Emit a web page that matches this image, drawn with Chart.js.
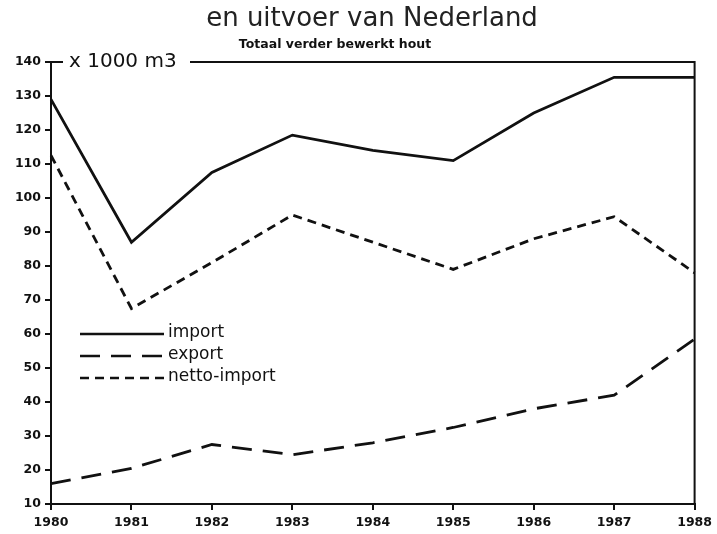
<!DOCTYPE html>
<html lang="nl">
  <head>
    <meta charset="UTF-8" />
    <title>Uitvoer van Nederland</title>
    <script src="https://cdn.jsdelivr.net/npm/chart.js"></script>
    <style>
      html, body { margin: 0; padding: 0; background: #fff; }
      .chart-container { position: relative; width: 717px; height: 534px; }
    </style>
  </head>
  <body>
    <div class="chart-container">
      <canvas id="houtChart"></canvas>
    </div>
    <script>
      // data (x 1000 m3)
      const years = ["1980", "1981", "1982", "1983", "1984", "1985", "1986", "1987", "1988"];
      const importValues = [129, 87, 107.5, 118.5, 114, 111, 125, 135.5, 135.5];
      const exportValues = [16, 20.5, 27.5, 24.5, 28, 32.5, 38, 42, 58.5];
      const nettoValues = [112.5, 67.5, 81, 95, 87, 79, 88, 94.5, 78];
      const seriesNames = ["import", "export", "netto-import"];

      const ink = "#111";
      const dashes = [[], [20, 11], [9, 6]];

      // title, subtitle, frame, unit label and legend
      const decorations = {
        id: "decorations",
        afterDraw(chart) {
          const { ctx, chartArea } = chart;
          const { left, right, top, bottom } = chartArea;
          ctx.save();
          ctx.fillStyle = ink;
          ctx.strokeStyle = ink;
          ctx.textBaseline = "middle";

          ctx.textAlign = "center";
          ctx.font = "26px 'DejaVu Sans', sans-serif";
          ctx.fillStyle = "#222";
          ctx.fillText("en uitvoer van Nederland", 372, 19);
          ctx.fillStyle = ink;
          ctx.font = "bold 12.5px 'DejaVu Sans', sans-serif";
          ctx.fillText("Totaal verder bewerkt hout", 335, 45);

          // top and right frame, broken for the unit label
          ctx.lineWidth = 2;
          ctx.beginPath();
          ctx.moveTo(left, top);
          ctx.lineTo(left + 12, top);
          ctx.moveTo(190, top);
          ctx.lineTo(right, top);
          ctx.lineTo(right, bottom);
          ctx.stroke();

          ctx.textAlign = "left";
          ctx.font = "20px 'DejaVu Sans', sans-serif";
          ctx.fillText("x 1000 m3", 69, top);

          // legend inside the plot
          const rows = [334, 356, 378];
          ctx.font = "17px 'DejaVu Sans', sans-serif";
          rows.forEach((y, i) => {
            ctx.lineWidth = 2.5;
            ctx.setLineDash(dashes[i]);
            ctx.beginPath();
            ctx.moveTo(80, y);
            ctx.lineTo(164, y);
            ctx.stroke();
            ctx.setLineDash([]);
            ctx.fillText(seriesNames[i], 168, y - 1);
          });
          ctx.restore();
        },
      };

      const tickFont = { family: "'DejaVu Sans', sans-serif", size: 12.5, weight: "bold" };

      new Chart(document.getElementById("houtChart"), {
        type: "line",
        data: {
          labels: years,
          datasets: [
            { label: seriesNames[0], data: importValues, borderDash: dashes[0] },
            { label: seriesNames[1], data: exportValues, borderDash: dashes[1] },
            { label: seriesNames[2], data: nettoValues, borderDash: dashes[2] },
          ].map((d) => ({
            ...d,
            borderColor: ink,
            borderWidth: 2.8,
            pointRadius: 0,
            tension: 0,
            fill: false,
          })),
        },
        options: {
          responsive: true,
          maintainAspectRatio: false,
          animation: false,
          layout: { padding: { top: 62, right: 17, left: 0, bottom: 0 } },
          plugins: { legend: { display: false }, tooltip: { enabled: false } },
          scales: {
            x: {
              offset: false,
              grid: { drawOnChartArea: false, drawTicks: true, tickLength: 6, color: ink, lineWidth: 2 },
              border: { display: true, color: ink, width: 2 },
              ticks: { color: ink, font: tickFont, maxRotation: 0, autoSkip: false, padding: 5 },
              afterFit(scale) { scale.height = 30; },
            },
            y: {
              min: 10,
              max: 140,
              grid: { drawOnChartArea: false, drawTicks: true, tickLength: 6, color: ink, lineWidth: 2 },
              border: { display: true, color: ink, width: 2 },
              ticks: { stepSize: 10, color: ink, font: tickFont, padding: 4 },
              afterFit(scale) { scale.width = 51; },
            },
          },
        },
        plugins: [decorations],
      });
    </script>
  </body>
</html>
